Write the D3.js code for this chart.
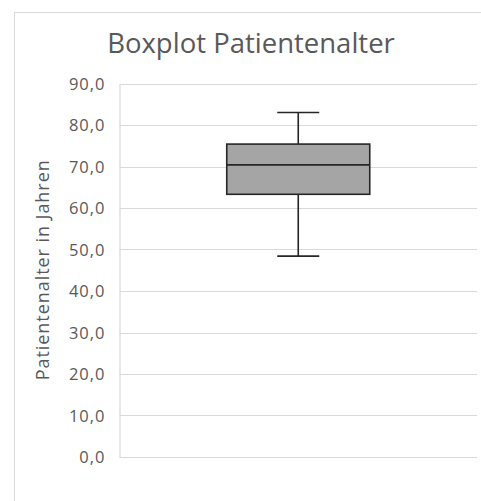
<!DOCTYPE html>
<html><head><meta charset="utf-8">
<script src="https://cdn.jsdelivr.net/npm/d3@7"></script>
<style>html,body{margin:0;padding:0;background:#fff;}svg{display:block;}</style>
</head><body>
<script>
const title = "Boxplot Patientenalter";
const yAxisTitle = "Patientenalter in Jahren";
const categories = ["Patientenalter"];
const whiskerLow = [48.4];
const q1 = [63.3];
const median = [70.4];
const q3 = [75.4];
const whiskerHigh = [83.0];
const yTicks = [0, 10, 20, 30, 40, 50, 60, 70, 80, 90];

(function () {
const W = 481, H = 501;
const svg = d3.select("body").append("svg").attr("width", W).attr("height", H);
svg.append("rect").attr("x", 14.5).attr("y", 12.5).attr("width", 500).attr("height", 520)
  .attr("fill", "#fff").attr("stroke", "#d9d9d9").attr("stroke-width", 1);

const pLeft = 119.5, pRight = 477, pTop = 83.5, pBottom = 457;
const y = d3.scaleLinear().domain([0, 90]).range([pBottom, pTop]);
const x = d3.scaleBand().domain(categories).range([pLeft, pRight]).paddingInner(0).paddingOuter(0.75);

const font = "'Open Sans', 'Noto Sans', sans-serif";
svg.append("text").attr("x", 251).attr("y", 53).attr("text-anchor", "middle")
  .attr("font-family", font).attr("font-size", 27.5).attr("fill", "#595959").text(title);

svg.append("g").selectAll("line").data(yTicks).join("line")
  .attr("x1", pLeft).attr("x2", pRight)
  .attr("y1", d => Math.round(y(d)) + 0.5).attr("y2", d => Math.round(y(d)) + 0.5)
  .attr("stroke", "#d9d9d9").attr("stroke-width", 1.2);

const axis = d3.axisLeft(y).tickValues(yTicks).tickSize(0).tickPadding(14)
  .tickFormat(d => d3.format(".1f")(d).replace(".", ","));
const gA = svg.append("g").attr("transform", `translate(${pLeft},0)`).call(axis);
gA.select(".domain").attr("stroke", "#d9d9d9").attr("stroke-width", 1.2);
gA.selectAll("text").attr("font-family", font).attr("font-size", 16.5).attr("fill", "#595959")
  .attr("letter-spacing", 1).attr("dy", "0.36em");

svg.append("text").attr("transform", `translate(48.5,${(pTop + pBottom) / 2}) rotate(-90)`)
  .attr("text-anchor", "middle").attr("font-family", font).attr("font-size", 18)
  .attr("textLength", 220).attr("lengthAdjust", "spacing")
  .attr("fill", "#595959").text(yAxisTitle);

const g = svg.append("g");
categories.forEach((c, i) => {
  const bx = x(c), bw = x.bandwidth();
  const cx = bx + bw / 2;
  const capW = 42;
  const st = "#262626", sw = 1.6;
  g.append("line").attr("x1", cx).attr("x2", cx).attr("y1", y(whiskerHigh[i])).attr("y2", y(q3[i]))
    .attr("stroke", st).attr("stroke-width", sw);
  g.append("line").attr("x1", cx).attr("x2", cx).attr("y1", y(q1[i])).attr("y2", y(whiskerLow[i]))
    .attr("stroke", st).attr("stroke-width", sw);
  g.append("line").attr("x1", cx - capW / 2).attr("x2", cx + capW / 2)
    .attr("y1", y(whiskerHigh[i])).attr("y2", y(whiskerHigh[i])).attr("stroke", st).attr("stroke-width", sw);
  g.append("line").attr("x1", cx - capW / 2).attr("x2", cx + capW / 2)
    .attr("y1", y(whiskerLow[i])).attr("y2", y(whiskerLow[i])).attr("stroke", st).attr("stroke-width", sw);
  g.append("rect").attr("x", bx).attr("width", bw).attr("y", y(q3[i])).attr("height", y(q1[i]) - y(q3[i]))
    .attr("fill", "#a5a5a5").attr("stroke", st).attr("stroke-width", sw);
  g.append("line").attr("x1", bx).attr("x2", bx + bw).attr("y1", y(median[i])).attr("y2", y(median[i]))
    .attr("stroke", st).attr("stroke-width", sw);
});
})();
</script>
</body></html>
